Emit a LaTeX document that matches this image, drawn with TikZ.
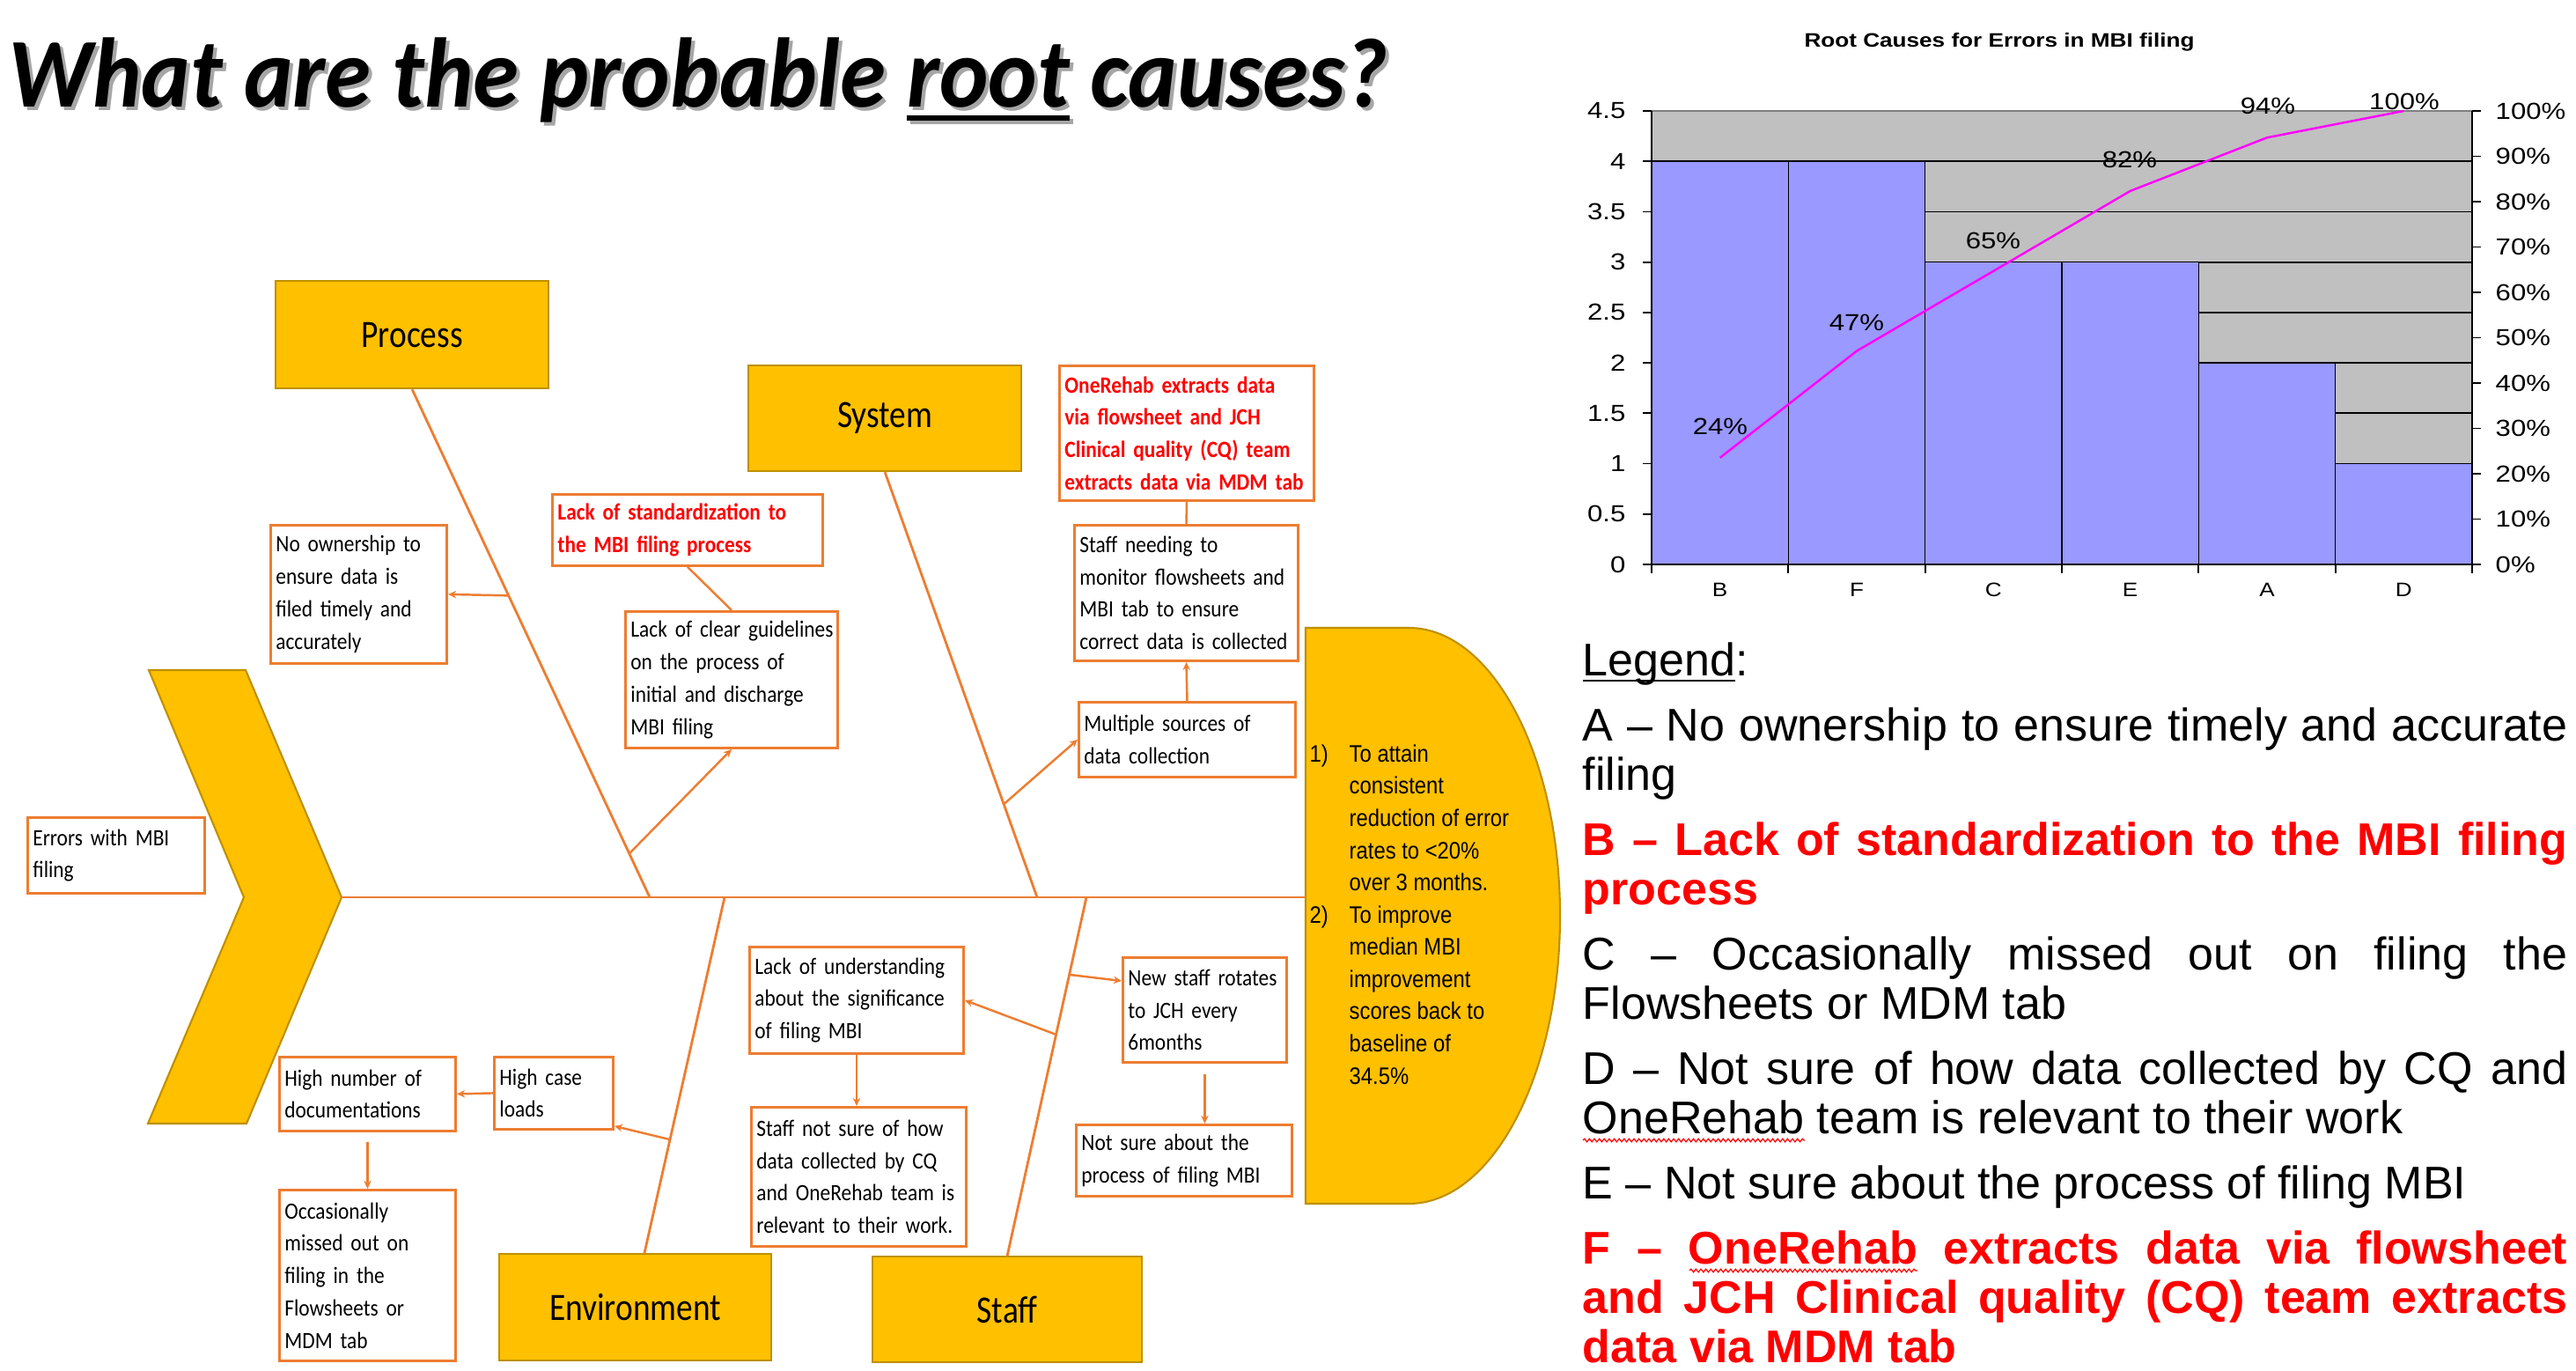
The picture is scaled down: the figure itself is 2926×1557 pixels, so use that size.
\documentclass[tikz,border=0pt]{standalone}
\usepackage{fontspec}
\setmainfont{Carlito}
\newfontfamily\calf[FakeStretch=0.88]{Carlito}
\newfontfamily\catf[FakeStretch=0.85]{Carlito}
\newfontfamily\titf[FakeStretch=0.94]{Carlito}
\newfontfamily\arN[FakeStretch=0.88]{Liberation Sans}
\newfontfamily\arL{Liberation Sans}
\newfontfamily\arW[FakeStretch=1.18]{Liberation Sans}
\usetikzlibrary{calc,arrows.meta,decorations.pathmorphing}
\definecolor{yel}{HTML}{FFC000}
\definecolor{gold}{HTML}{BF9000}
\definecolor{orj}{HTML}{ED7D31}
\definecolor{redt}{HTML}{FF0000}
\definecolor{barc}{HTML}{9999FF}
\definecolor{cgray}{HTML}{C0C0C0}
\definecolor{mag}{HTML}{FF00FF}
\newcommand\myul[3]{\setbox0\hbox{#1}\rlap{\rule[-#2]{\wd0}{#3}}\box0{}}
\newcommand\ml[1]{\makebox[0pt][l]{#1}}
\begin{document}
\begin{tikzpicture}[x=0.01cm,y=-0.01cm,
  bone/.style={draw=orj, line width=0.8pt},
  conn/.style={draw=orj, line width=0.7pt},
  arr/.style={conn, -{Stealth[length=2.6pt,width=2.4pt]}},
  obox/.style={draw=orj, line width=0.8pt, fill=white, anchor=north west, inner xsep=0.06cm, inner ysep=0pt, align=left, font=\calf\fontsize{7.55pt}{10.45pt}\selectfont},
  rbox/.style={obox, text=redt, font=\calf\bfseries\fontsize{7.55pt}{10.45pt}\selectfont},
  cat/.style={draw=gold, fill=yel, line width=0.6pt, anchor=north west, font=\catf\fontsize{12.5pt}{14pt}\selectfont},
  lg/.style={anchor=base west, inner sep=0pt, font=\arL\fontsize{14.8pt}{16pt}\selectfont},
  lgr/.style={lg, text=redt, font=\arL\bfseries\fontsize{14.8pt}{16pt}\selectfont},
  cnum/.style={inner sep=0pt, font=\arW\fontsize{7.5pt}{9pt}\selectfont},
  ccat/.style={inner sep=0pt, font=\arW\fontsize{6.3pt}{8pt}\selectfont},
  squig/.style={draw=redt, line width=0.35pt, decorate, decoration={snake, amplitude=0.5pt, segment length=1.6pt}},
  titstyle/.style={anchor=base west, inner sep=0pt, font=\titf\bfseries\itshape\fontsize{31.9pt}{36pt}\selectfont}]

\useasboundingbox (0,0) rectangle (2926,1557);
\fill[white] (0,0) rectangle (2926,1557);

% ---------- title ----------
\node[titstyle, text=black!35] (titleshadow) at (13,125) {What are the probable \myul{root}{0.16cm}{0.06cm} causes?};
\node[titstyle] (title) at (9,121) {What are the probable \myul{root}{0.16cm}{0.06cm} causes?};

% ---------- chart ----------
\node[font=\arW\bfseries\fontsize{6.3pt}{8pt}\selectfont, inner sep=0pt] (ctitle) at (2271,48) {Root Causes for Errors in MBI filing};
\fill[cgray] (1876,126) rectangle (2808,641);
\foreach \v in {1,...,8} \draw[black, line width=0.5pt] (1876,{641-\v*57.22}) -- (2808,{641-\v*57.22});
\draw[black!50, line width=0.3pt] (1876,126) -- (2808,126);
\foreach \i/\h in {0/4,1/4,2/3,3/3,4/2,5/1}
  \filldraw[fill=barc, draw=black, line width=0.4pt] ({1876+\i*155.33},641) rectangle ({1876+(\i+1)*155.33},{641-\h*114.44});
\draw[black, line width=0.5pt] (1876,126) -- (1876,641) -- (2808,641) -- (2808,126);
\foreach \v/\t in {0/0,1/0.5,2/1,3/1.5,4/2,5/2.5,6/3,7/3.5,8/4,9/4.5} {
  \draw[black, line width=0.5pt] (1866,{641-\v*57.22}) -- (1876,{641-\v*57.22});
  \node[cnum, anchor=east] (yl\v) at (1847,{641-\v*57.22}) {\t};
}
\foreach \k/\t in {0/0,1/10,2/20,3/30,4/40,5/50,6/60,7/70,8/80,9/90,10/100} {
  \draw[black, line width=0.5pt] (2808,{641-\k*51.5}) -- (2818,{641-\k*51.5});
  \node[cnum, anchor=west] (yr\k) at (2834,{641-\k*51.5}) {\t\%};
}
\foreach \i/\c in {0/B,1/F,2/C,3/E,4/A,5/D} {
  \draw[black, line width=0.5pt] ({1876+\i*155.33},641) -- ({1876+\i*155.33},651);
  \node[ccat] (xl\c) at ({1876+(\i+0.5)*155.33},670) {\c};
}
\draw[black, line width=0.5pt] (2808,641) -- (2808,651);
\draw[mag, line width=0.7pt] (1953.7,519.8) -- (2109,398.6) -- (2264.3,307.8) -- (2419.7,216.9) -- (2575,156.3) -- (2730.3,126);
\node[cnum] (p24) at (1954,484) {24\%};
\node[cnum] (p47) at (2109,366) {47\%};
\node[cnum] (p65) at (2264,273) {65\%};
\node[cnum] (p82) at (2419,181) {82\%};
\node[cnum] (p94) at (2576,120) {94\%};
\node[cnum] (p100) at (2731,115) {100\%};

% ---------- legend ----------
\node[lg] (lgT) at (1797,767) {\myul{Legend}{0.07cm}{0.02cm}:};
\node[lg] (lgA1) at (1797,841) {\makebox[11.18cm][s]{A – No ownership to ensure timely and accurate}};
\node[lg] (lgA2) at (1797,897) {filing};
\node[lgr] (lgB1) at (1797,971) {\makebox[11.18cm][s]{B – Lack of standardization to the MBI filing}};
\node[lgr] (lgB2) at (1797,1027) {process};
\node[lg] (lgC1) at (1797,1101) {\makebox[11.18cm][s]{C – Occasionally missed out on filing the}};
\node[lg] (lgC2) at (1797,1157) {Flowsheets or MDM tab};
\node[lg] (lgD1) at (1797,1231) {\makebox[11.18cm][s]{D – Not sure of how data collected by CQ and}};
\node[lg] (lgD2) at (1797,1287) {OneRehab team is relevant to their work};
\node[lg] (lgE) at (1797,1361) {E – Not sure about the process of filing MBI};
\node[lgr] (lgF1) at (1797,1435) {\makebox[11.18cm][s]{F – OneRehab extracts data via flowsheet}};
\node[lgr] (lgF2) at (1797,1491) {\makebox[11.18cm][s]{and JCH Clinical quality (CQ) team extracts}};
\node[lgr] (lgF3) at (1797,1547) {data via MDM tab};
\draw[squig] (1798,1295) -- (2050,1295);
\draw[squig] (1919,1443) -- (2178,1443);

% ---------- fish head (problem) ----------
\filldraw[fill=yel, draw=gold, line width=0.6pt] (169,761) -- (279,761) -- (388,1019) coordinate (tip) -- (280,1276) -- (168,1276) -- (277,1019) -- cycle;

% ---------- goal shape ----------
\filldraw[fill=yel, draw=gold, line width=0.6pt] (1483,713) -- (1600,713) .. controls (1695,713) and (1772,859) .. (1772,1040) .. controls (1772,1221) and (1695,1367) .. (1600,1367) -- (1483,1367) -- cycle;
\coordinate (headL) at (1483,1019);
\node[anchor=north west, inner sep=0pt, align=left, font=\arN\fontsize{7.7pt}{10.4pt}\selectfont] (goal) at (1487,845)
 {\makebox[0.45cm][l]{1)}To attain\\\hspace*{0.45cm}consistent\\\hspace*{0.45cm}reduction of error\\\hspace*{0.45cm}rates to <20\%\\\hspace*{0.45cm}over 3 months.\\\makebox[0.45cm][l]{2)}To improve\\\hspace*{0.45cm}median MBI\\\hspace*{0.45cm}improvement\\\hspace*{0.45cm}scores back to\\\hspace*{0.45cm}baseline of\\\hspace*{0.45cm}34.5\%};

% ---------- category boxes ----------
\node[cat, minimum width=3.10cm, minimum height=1.22cm] (Process) at (312,318) {Process};
\node[cat, minimum width=3.10cm, minimum height=1.20cm] (System) at (849,414) {System};
\node[cat, minimum width=3.09cm, minimum height=1.21cm] (Env) at (566,1423) {Environment};
\node[cat, minimum width=3.06cm, minimum height=1.20cm] (Staff) at (990,1426) {Staff};

% ---------- spine and bones ----------
\coordinate (pB) at (738,1019);
\coordinate (sB) at (1178,1019);
\coordinate (eB) at (823,1019);
\coordinate (tB) at (1234,1019);
\coordinate (eTop) at (732,1423);
\draw[bone] (tip) -- (headL);
\draw[bone] (Process.south) -- (pB);
\draw[bone] (System.south) -- (sB);
\draw[bone] (eTop) -- (eB);
\draw[bone] (Staff.north) -- (tB);

% ---------- cause boxes ----------
\node[obox, minimum width=2.01cm, minimum height=0.86cm, text width=1.89cm] (err) at (30,927) {\ml{Errors with MBI}\\\ml{filing}};
\node[obox, minimum width=2.00cm, minimum height=1.57cm, text width=1.88cm] (own) at (306,595) {\ml{No ownership to}\\\ml{ensure data is}\\\ml{filed timely and}\\\ml{accurately}};
\node[rbox, minimum width=3.07cm, minimum height=0.81cm, text width=2.95cm] (std) at (626,560) {\ml{Lack of standardization to}\\\ml{the MBI filing process}};
\node[obox, minimum width=2.41cm, minimum height=1.55cm, text width=2.29cm] (clr) at (709,693) {\ml{Lack of clear guidelines}\\\ml{on the process of}\\\ml{initial and discharge}\\\ml{MBI filing}};
\node[rbox, minimum width=2.89cm, minimum height=1.53cm, text width=2.77cm] (one) at (1202,414) {\ml{OneRehab extracts data}\\\ml{via flowsheet and JCH}\\\ml{Clinical quality (CQ) team}\\\ml{extracts data via MDM tab}};
\node[obox, minimum width=2.54cm, minimum height=1.54cm, text width=2.42cm] (mon) at (1219,595) {\ml{Staff needing to}\\\ml{monitor flowsheets and}\\\ml{MBI tab to ensure}\\\ml{correct data is collected}};
\node[obox, minimum width=2.46cm, minimum height=0.85cm, text width=2.34cm] (mul) at (1224,796) {\ml{Multiple sources of}\\\ml{data collection}};
\node[obox, minimum width=1.35cm, minimum height=0.82cm, text width=1.23cm] (hcl) at (560,1199) {\ml{High case}\\\ml{loads}};
\node[obox, minimum width=2.00cm, minimum height=0.84cm, text width=1.88cm] (hnd) at (316,1199) {\ml{High number of}\\\ml{documentations}};
\node[obox, minimum width=2.00cm, minimum height=1.94cm, text width=1.88cm] (occ) at (316,1350) {\ml{Occasionally}\\\ml{missed out on}\\\ml{filing in the}\\\ml{Flowsheets or}\\\ml{MDM tab}};
\node[obox, minimum width=2.43cm, minimum height=1.21cm, text width=2.31cm] (lou) at (850,1074) {\ml{Lack of understanding}\\\ml{about the significance}\\\ml{of filing MBI}};
\node[obox, minimum width=2.44cm, minimum height=1.58cm, text width=2.32cm] (sns) at (852,1256) {\ml{Staff not sure of how}\\\ml{data collected by CQ}\\\ml{and OneRehab team is}\\\ml{relevant to their work.}};
\node[obox, minimum width=1.86cm, minimum height=1.19cm, text width=1.74cm] (nsr) at (1274,1086) {\ml{New staff rotates}\\\ml{to JCH every}\\\ml{6months}};
\node[obox, minimum width=2.45cm, minimum height=0.81cm, text width=2.33cm] (nsp) at (1221,1276) {\ml{Not sure about the}\\\ml{process of filing MBI}};

% ---------- connectors ----------
\draw[arr] ($(Process.south)!0.406!(pB)$) -- (own.east);
\draw[conn] (std.south) -- (clr.north);
\draw[arr] ($(Process.south)!0.914!(pB)$) -- (clr.south);
\draw[conn] (one.south) -- (mon.north);
\draw[arr] (mul.north) -- (mon.south);
\draw[arr] ($(System.south)!0.781!(sB)$) -- (mul.west);
\draw[arr] ($(eTop)!0.319!(eB)$) -- ($(hcl.south east)+(0,-5)$);
\draw[arr] (hcl.west) -- (hnd.east);
\draw[arr] ($(hnd.south)+(0,11)$) -- (occ.north);
\draw[arr] ($(Staff.north)!0.617!(tB)$) -- (lou.east);
\draw[arr] (lou.south) -- (lou.south |- sns.north);
\draw[arr] ($(Staff.north)!0.784!(tB)$) -- ($(nsr.north west)+(0,28)$);
\draw[arr] ($(nsr.south)+(0,12)$) -- (nsr.south |- nsp.north);
\end{tikzpicture}
\end{document}
